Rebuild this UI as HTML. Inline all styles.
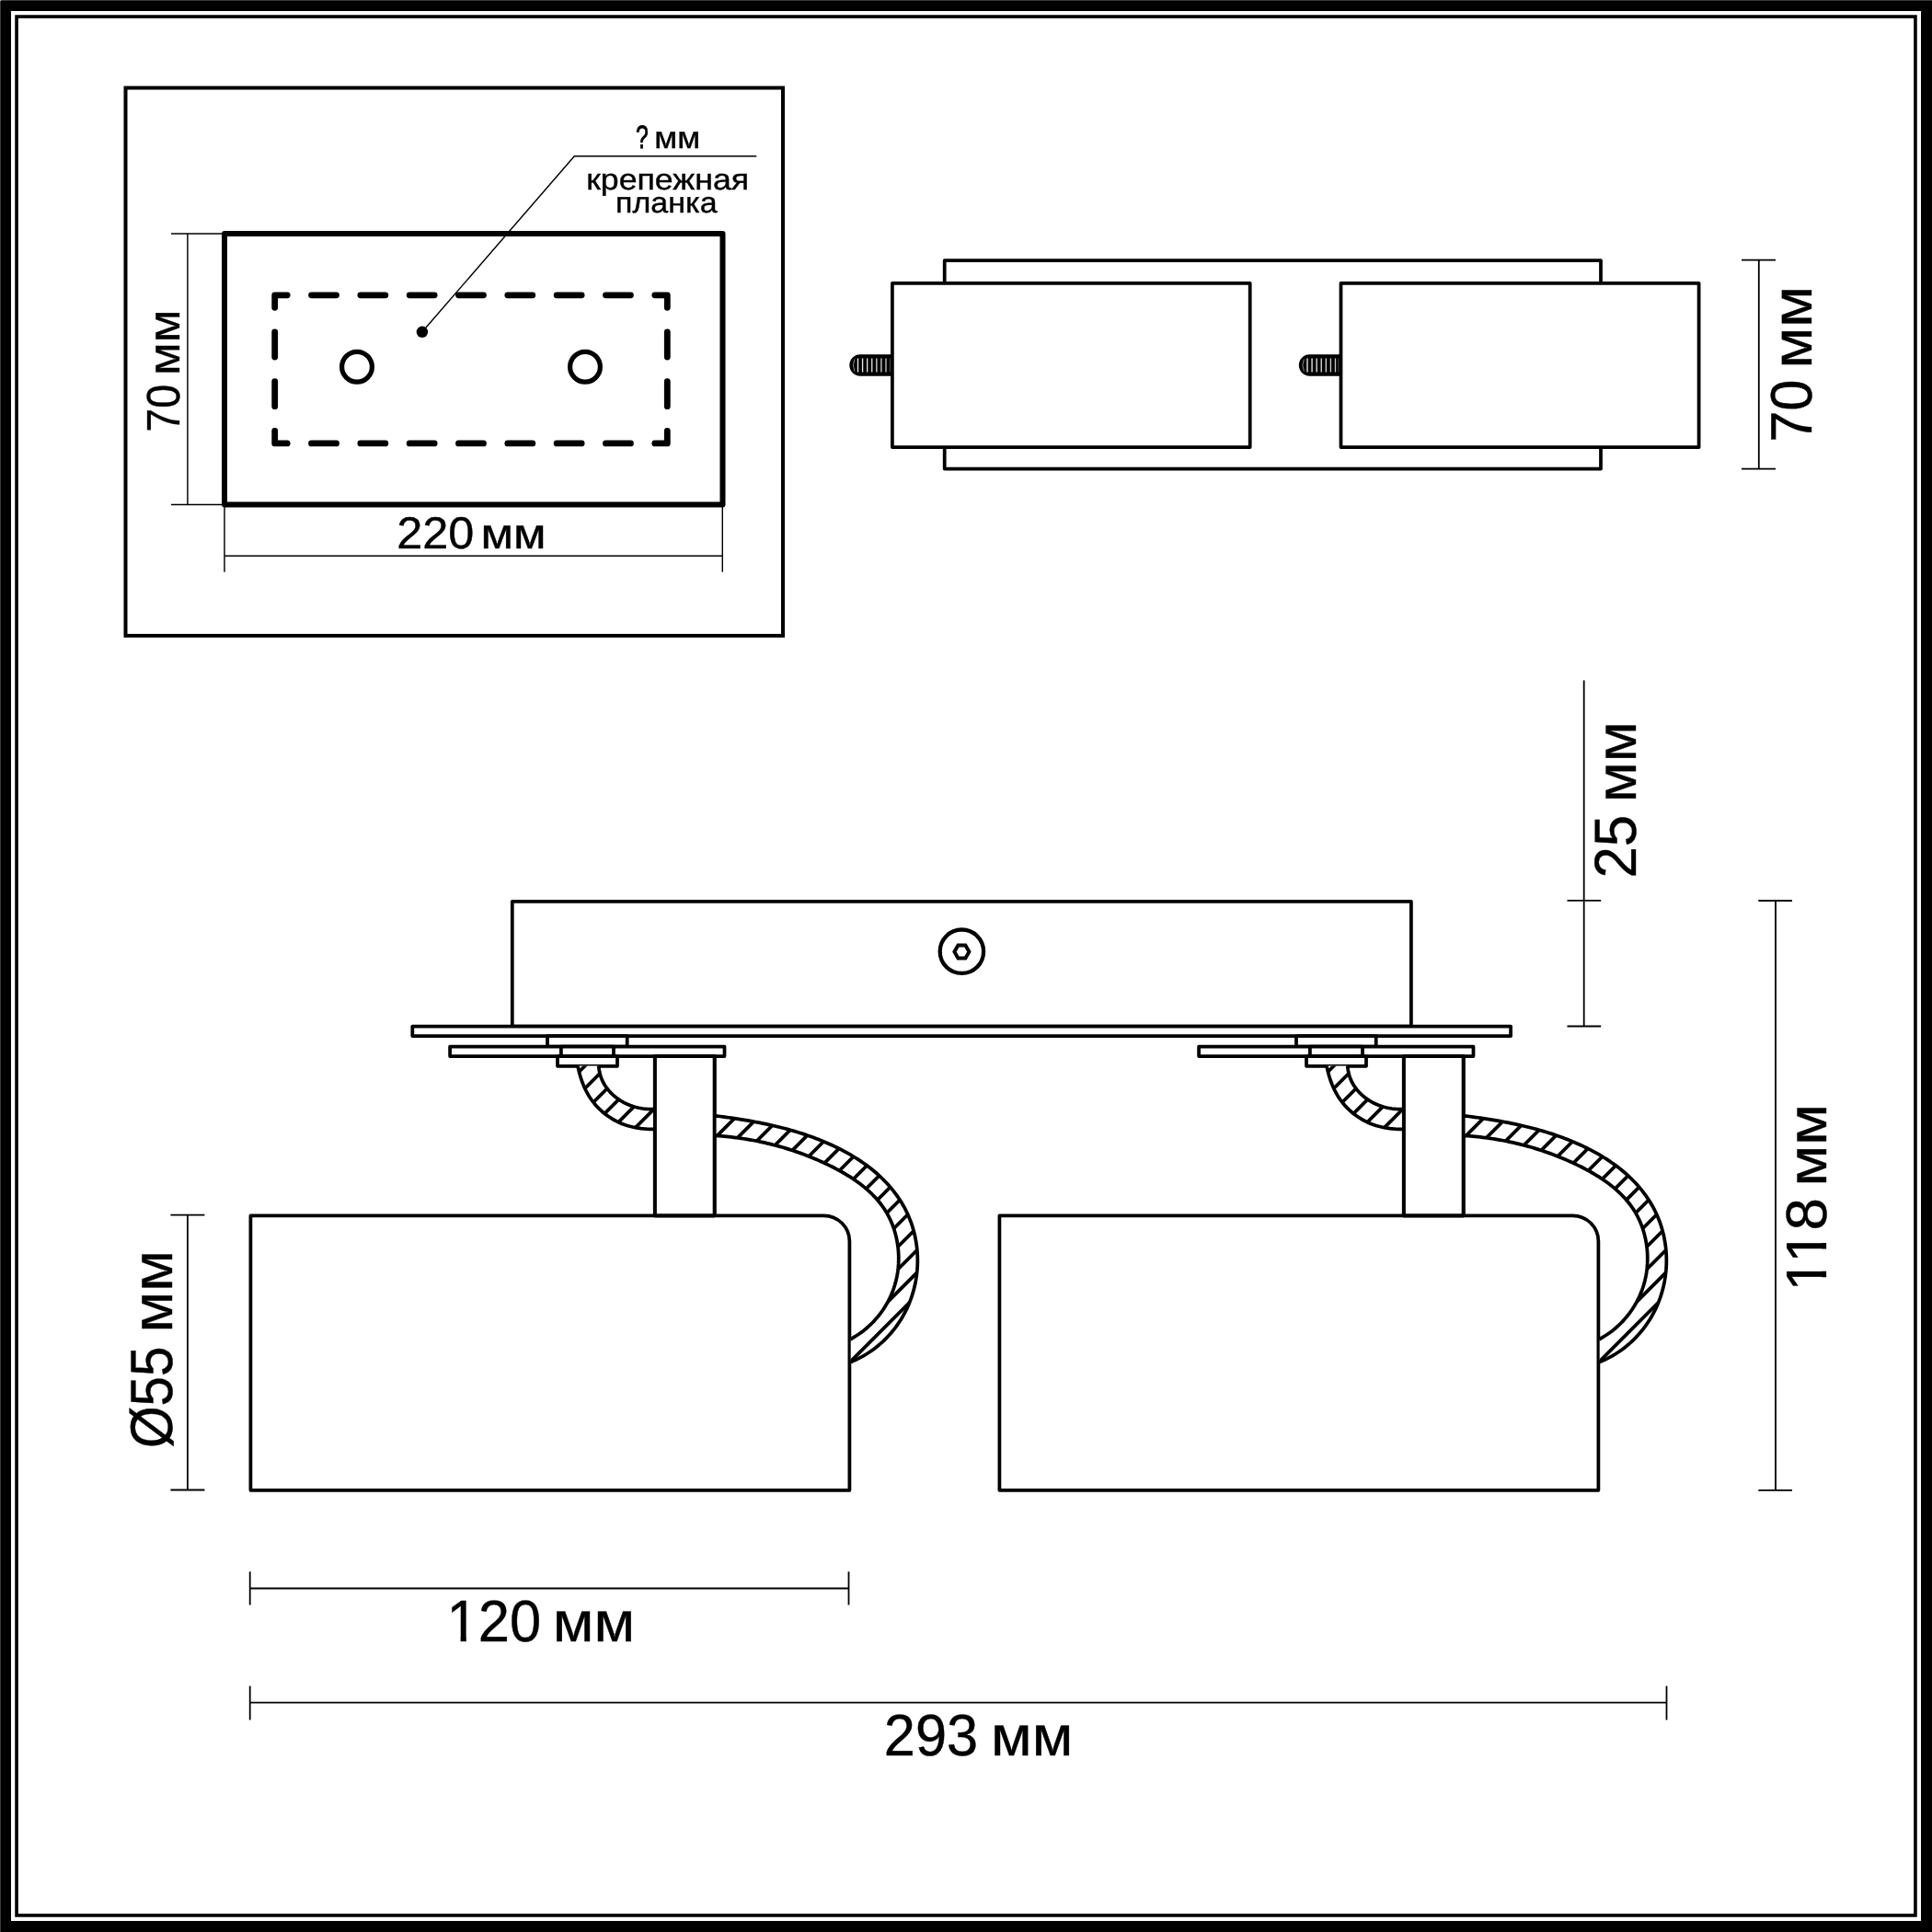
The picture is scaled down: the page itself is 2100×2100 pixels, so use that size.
<!DOCTYPE html>
<html lang="ru"><head><meta charset="utf-8"><title>Схема</title>
<style>
html,body{margin:0;padding:0;background:#fff;width:2100px;height:2100px;overflow:hidden;}
svg{display:block;}
svg{will-change:transform;}
text{font-family:"Liberation Sans",sans-serif;fill:#000;text-rendering:geometricPrecision;}
</style></head><body>
<svg width="2100" height="2100" viewBox="0 0 2100 2100">
<rect x="0" y="0" width="2100" height="2100" fill="#fff"/>
<rect x="6" y="6" width="2088" height="2088" fill="none" stroke="#000" stroke-width="12"/>
<rect x="18.05" y="18.05" width="2063.9" height="2063.9" fill="none" stroke="#000" stroke-width="3.6"/>
<rect x="0" y="0" width="2100" height="1" fill="#3a3a3a"/><rect x="0" y="0" width="1" height="2100" fill="#3a3a3a"/><rect x="0" y="0" width="1" height="1" fill="#c8c8c8"/>
<rect x="136.5" y="95.5" width="714.5" height="595.5" fill="none" stroke="#000" stroke-width="4" />
<rect x="244" y="254" width="541.5" height="294.6" fill="none" stroke="#000" stroke-width="6" stroke-linejoin="round"/>
<path d="M298.7 320.8L312.2 320.8 M338.52 320.8L365.52 320.8 M391.85 320.8L418.85 320.8 M445.17 320.8L472.17 320.8 M498.5 320.8L525.5 320.8 M551.82 320.8L578.83 320.8 M605.15 320.8L632.15 320.8 M658.47 320.8L685.47 320.8 M711.8 320.8L725.3 320.8 M298.7 481.9L312.2 481.9 M338.52 481.9L365.52 481.9 M391.85 481.9L418.85 481.9 M445.17 481.9L472.17 481.9 M498.5 481.9L525.5 481.9 M551.82 481.9L578.83 481.9 M605.15 481.9L632.15 481.9 M658.47 481.9L685.47 481.9 M711.8 481.9L725.3 481.9 M298.7 320.8L298.7 334.3 M298.7 361L298.7 388 M298.7 414.7L298.7 441.7 M298.7 468.4L298.7 481.9 M725.3 320.8L725.3 334.3 M725.3 361L725.3 388 M725.3 414.7L725.3 441.7 M725.3 468.4L725.3 481.9" fill="none" stroke="#000" stroke-width="6.8" stroke-linecap="round"/>
<circle cx="388" cy="398.7" r="16.4" fill="none" stroke="#000" stroke-width="5.2"/>
<circle cx="636" cy="398.7" r="16.4" fill="none" stroke="#000" stroke-width="5.2"/>
<circle cx="458.9" cy="360.8" r="6.2" fill="#000"/>
<polyline points="458.9,360.8 624.3,169.7 822.3,169.7" fill="none" stroke="#000" stroke-width="1.45"/>
<line x1="203.9" y1="253.9" x2="203.9" y2="548.4" stroke="#000" stroke-width="1.45" />
<line x1="186" y1="253.9" x2="241.5" y2="253.9" stroke="#000" stroke-width="1.45" />
<line x1="186" y1="548.4" x2="241.5" y2="548.4" stroke="#000" stroke-width="1.45" />
<line x1="244" y1="551" x2="244" y2="621.7" stroke="#000" stroke-width="1.45" />
<line x1="785.3" y1="551" x2="785.3" y2="621.7" stroke="#000" stroke-width="1.45" />
<line x1="244" y1="604.3" x2="785.3" y2="604.3" stroke="#000" stroke-width="1.45" />
<text transform="translate(431.18,595.51) scale(0.2517,0.2430)" font-size="200" stroke="#000" stroke-width="1.65">220</text>
<text transform="translate(522.48,595.51) scale(0.2585,0.2320)" font-size="200" stroke="#000" stroke-width="1.72">мм</text>
<text transform="translate(194.79,469.73) rotate(-90) scale(0.2333,0.2535)" font-size="200" stroke="#000" stroke-width="1.58">70</text>
<text transform="translate(194.79,407.92) rotate(-90) scale(0.2589,0.2421)" font-size="200" stroke="#000" stroke-width="1.65">мм</text>
<text transform="translate(691.06,161) scale(0.1240,0.1771)" font-size="200" stroke="#000" stroke-width="5">?</text>
<text transform="translate(711.36,161) scale(0.1815,0.1692)" font-size="200" stroke="#000" stroke-width="2.36">мм</text>
<text transform="translate(637.18,205.72) scale(0.1785,0.1613)" font-size="200" stroke="#000" stroke-width="2.48">крепежная</text>
<text transform="translate(669.02,230.98) scale(0.1701,0.1591)" font-size="200" stroke="#000" stroke-width="2.51">планка</text>
<rect x="1026.7" y="283.2" width="713.3" height="226.4" fill="#fff" stroke="#000" stroke-width="3.75"  stroke-linejoin="round"/>
<path d="M970 385.35H934.95A11.65 11.65 0 0 0 934.95 408.65H970Z" fill="#000"/>
<line x1="932.5" y1="389.5" x2="932.5" y2="404.5" stroke="#000" stroke-width="1.35" style="stroke:rgb(240,240,240)"/>
<line x1="937.58" y1="389.5" x2="937.58" y2="404.5" stroke="#000" stroke-width="1.35" style="stroke:rgb(233,233,233)"/>
<line x1="942.66" y1="389.5" x2="942.66" y2="404.5" stroke="#000" stroke-width="1.35" style="stroke:rgb(226,226,226)"/>
<line x1="947.74" y1="389.5" x2="947.74" y2="404.5" stroke="#000" stroke-width="1.35" style="stroke:rgb(219,219,219)"/>
<line x1="952.82" y1="389.5" x2="952.82" y2="404.5" stroke="#000" stroke-width="1.35" style="stroke:rgb(212,212,212)"/>
<line x1="957.9" y1="389.5" x2="957.9" y2="404.5" stroke="#000" stroke-width="1.35" style="stroke:rgb(205,205,205)"/>
<line x1="962.98" y1="389.5" x2="962.98" y2="404.5" stroke="#000" stroke-width="1.35" style="stroke:rgb(198,198,198)"/>
<line x1="967.4" y1="389.4" x2="967.4" y2="404.6" stroke="#000" stroke-width="1.2" style="stroke:#444"/>
<path d="M928.9 390.5Q925.9 397 928.9 403.5" fill="none" stroke="#8a8a8a" stroke-width="1"/>
<path d="M1457.5 385.35H1423.45A11.65 11.65 0 0 0 1423.45 408.65H1457.5Z" fill="#000"/>
<line x1="1421" y1="389.5" x2="1421" y2="404.5" stroke="#000" stroke-width="1.35" style="stroke:rgb(240,240,240)"/>
<line x1="1426.08" y1="389.5" x2="1426.08" y2="404.5" stroke="#000" stroke-width="1.35" style="stroke:rgb(233,233,233)"/>
<line x1="1431.16" y1="389.5" x2="1431.16" y2="404.5" stroke="#000" stroke-width="1.35" style="stroke:rgb(226,226,226)"/>
<line x1="1436.24" y1="389.5" x2="1436.24" y2="404.5" stroke="#000" stroke-width="1.35" style="stroke:rgb(219,219,219)"/>
<line x1="1441.32" y1="389.5" x2="1441.32" y2="404.5" stroke="#000" stroke-width="1.35" style="stroke:rgb(212,212,212)"/>
<line x1="1446.4" y1="389.5" x2="1446.4" y2="404.5" stroke="#000" stroke-width="1.35" style="stroke:rgb(205,205,205)"/>
<line x1="1451.48" y1="389.5" x2="1451.48" y2="404.5" stroke="#000" stroke-width="1.35" style="stroke:rgb(198,198,198)"/>
<line x1="1454.9" y1="389.4" x2="1454.9" y2="404.6" stroke="#000" stroke-width="1.2" style="stroke:#444"/>
<path d="M1417.4 390.5Q1414.4 397 1417.4 403.5" fill="none" stroke="#8a8a8a" stroke-width="1"/>
<rect x="969.9" y="307.8" width="388.8" height="178.2" fill="#fff" stroke="#000" stroke-width="3.75"  stroke-linejoin="round"/>
<rect x="1457.5" y="307.8" width="389.1" height="178.2" fill="#fff" stroke="#000" stroke-width="3.75"  stroke-linejoin="round"/>
<line x1="1911.8" y1="282.6" x2="1911.8" y2="509.6" stroke="#000" stroke-width="1.8" />
<line x1="1893" y1="282.6" x2="1930" y2="282.6" stroke="#000" stroke-width="1.8" />
<line x1="1893" y1="509.6" x2="1930" y2="509.6" stroke="#000" stroke-width="1.8" />
<text transform="translate(1969.26,480.87) rotate(-90) scale(0.3069,0.3176)" font-size="200" stroke="#000" stroke-width="1.26">70</text>
<text transform="translate(1969.26,400.56) rotate(-90) scale(0.3254,0.3033)" font-size="200" stroke="#000" stroke-width="1.32">мм</text>
<rect x="556.8" y="979.8" width="977.1" height="135.7" fill="#fff" stroke="#000" stroke-width="3.75"  stroke-linejoin="round"/>
<rect x="448.3" y="1115.6" width="1193.8" height="10.4" fill="#fff" stroke="#000" stroke-width="3.75"  stroke-linejoin="round"/>
<circle cx="1045.4" cy="1034.2" r="23.7" fill="none" stroke="#000" stroke-width="4.3"/>
<polygon points="1053.4,1034.5 1049.4,1041.43 1041.4,1041.43 1037.4,1034.5 1041.4,1027.57 1049.4,1027.57" fill="none" stroke="#000" stroke-width="3.9"/>
<defs>
<clipPath id="k1"><path d="M628 1158.6L628.64 1161.57L629.34 1164.55L630.11 1167.52L630.97 1170.46L631.91 1173.39L632.93 1176.28L634.05 1179.14L635.25 1181.96L636.56 1184.74L637.95 1187.46L639.45 1190.12L641.05 1192.72L642.76 1195.25L644.57 1197.71L646.49 1200.08L648.52 1202.37L650.64 1204.58L652.86 1206.71L655.16 1208.74L657.53 1210.69L659.98 1212.54L662.5 1214.29L665.09 1215.95L667.73 1217.49L670.43 1218.92L673.19 1220.23L676 1221.42L678.85 1222.5L681.75 1223.45L684.68 1224.3L687.65 1225.03L690.64 1225.66L693.66 1226.18L696.7 1226.6L699.75 1226.92L702.81 1227.15L705.88 1227.28L708.94 1227.33L712 1227.3L712 1205.3L709.83 1205.43L707.64 1205.51L705.45 1205.51L703.25 1205.43L701.05 1205.26L698.86 1205.01L696.68 1204.68L694.5 1204.28L692.35 1203.79L690.21 1203.23L688.09 1202.59L685.99 1201.88L683.93 1201.09L681.89 1200.23L679.89 1199.3L677.93 1198.3L676.01 1197.23L674.13 1196.09L672.3 1194.89L670.52 1193.61L668.8 1192.28L667.13 1190.88L665.52 1189.42L663.98 1187.9L662.51 1186.31L661.1 1184.67L659.77 1182.97L658.52 1181.21L657.35 1179.4L656.26 1177.54L655.26 1175.61L654.35 1173.64L653.53 1171.62L652.81 1169.54L652.19 1167.42L651.68 1165.25L651.27 1163.03L650.97 1160.76L650.7 1158.6Z"/></clipPath>
<clipPath id="k2"><path d="M776.3 1213.1L779.69 1213.11L782.74 1213.5L785.81 1213.9L788.88 1214.31L791.95 1214.74L795.03 1215.18L798.11 1215.63L801.19 1216.1L804.28 1216.58L807.37 1217.07L810.46 1217.59L813.55 1218.12L816.65 1218.66L819.74 1219.23L822.83 1219.81L825.92 1220.41L829.02 1221.04L832.1 1221.68L835.19 1222.34L838.27 1223.03L841.36 1223.73L844.43 1224.46L847.5 1225.22L850.57 1225.99L853.63 1226.8L856.69 1227.62L859.73 1228.47L862.78 1229.35L865.81 1230.26L868.83 1231.19L871.85 1232.15L874.86 1233.14L877.86 1234.16L880.85 1235.21L883.82 1236.29L886.79 1237.4L889.74 1238.55L892.68 1239.72L895.61 1240.93L898.53 1242.17L901.43 1243.45L904.32 1244.76L907.19 1246.11L910.04 1247.49L912.89 1248.91L915.71 1250.36L918.51 1251.86L921.3 1253.39L924.06 1254.96L926.8 1256.57L929.51 1258.23L932.2 1259.92L934.85 1261.66L937.48 1263.43L940.07 1265.26L942.63 1267.12L945.15 1269.03L947.63 1270.99L950.08 1272.99L952.48 1275.04L954.84 1277.13L957.15 1279.28L959.42 1281.47L961.64 1283.71L963.81 1285.99L965.92 1288.33L967.99 1290.7L969.99 1293.12L971.94 1295.58L973.83 1298.09L975.65 1300.64L977.41 1303.23L979.11 1305.86L980.74 1308.52L982.3 1311.23L983.78 1313.98L985.2 1316.76L986.53 1319.57L987.8 1322.43L988.98 1325.32L990.09 1328.23L991.11 1331.18L992.06 1334.16L992.94 1337.16L993.73 1340.19L994.44 1343.23L995.08 1346.3L995.64 1349.38L996.12 1352.48L996.52 1355.59L996.85 1358.71L997.09 1361.84L997.26 1364.98L997.35 1368.12L997.36 1371.27L997.29 1374.41L997.14 1377.55L996.91 1380.69L996.6 1383.83L996.22 1386.95L995.75 1390.07L995.21 1393.17L994.58 1396.26L993.88 1399.33L993.1 1402.38L992.24 1405.42L991.3 1408.43L990.27 1411.41L989.17 1414.37L987.99 1417.3L986.73 1420.2L985.4 1423.07L983.98 1425.9L982.49 1428.7L980.93 1431.45L979.29 1434.16L977.58 1436.84L975.81 1439.46L973.96 1442.04L972.04 1444.57L970.06 1447.04L968.01 1449.47L965.9 1451.83L963.73 1454.14L961.49 1456.39L959.19 1458.58L956.84 1460.71L954.42 1462.76L951.95 1464.76L949.42 1466.68L946.84 1468.52L944.21 1470.3L941.52 1472L938.78 1473.62L935.99 1475.15L933.16 1476.61L930.28 1477.98L927.35 1479.27L924.7 1480.6L924.7 1455.8L926.8 1454.28L929.12 1452.93L931.4 1451.51L933.64 1450.04L935.84 1448.49L937.99 1446.89L940.09 1445.23L942.15 1443.52L944.16 1441.74L946.13 1439.92L948.04 1438.04L949.9 1436.1L951.7 1434.12L953.46 1432.09L955.16 1430.02L956.8 1427.9L958.38 1425.73L959.91 1423.53L961.38 1421.28L962.79 1419L964.13 1416.68L965.42 1414.32L966.64 1411.93L967.79 1409.51L968.88 1407.06L969.9 1404.58L970.86 1402.07L971.74 1399.53L972.56 1396.97L973.3 1394.39L973.97 1391.79L974.57 1389.17L975.09 1386.53L975.55 1383.87L975.93 1381.21L976.24 1378.54L976.48 1375.85L976.65 1373.17L976.75 1370.47L976.78 1367.78L976.75 1365.09L976.64 1362.4L976.46 1359.72L976.21 1357.05L975.9 1354.38L975.51 1351.73L975.06 1349.09L974.54 1346.47L973.95 1343.87L973.3 1341.28L972.57 1338.72L971.79 1336.19L970.93 1333.68L970.01 1331.21L969.02 1328.76L967.97 1326.35L966.85 1323.98L965.66 1321.64L964.41 1319.35L963.1 1317.1L961.72 1314.89L960.28 1312.72L958.78 1310.6L957.22 1308.52L955.6 1306.48L953.93 1304.48L952.21 1302.53L950.43 1300.61L948.61 1298.73L946.74 1296.89L944.82 1295.08L942.86 1293.32L940.86 1291.59L938.81 1289.89L936.73 1288.23L934.61 1286.6L932.46 1285.01L930.27 1283.45L928.05 1281.92L925.81 1280.43L923.53 1278.96L921.23 1277.53L918.91 1276.13L916.56 1274.75L914.2 1273.4L911.81 1272.08L909.41 1270.79L907 1269.53L904.57 1268.29L902.13 1267.07L899.68 1265.88L897.22 1264.72L894.76 1263.57L892.29 1262.45L889.82 1261.36L887.34 1260.28L884.86 1259.23L882.37 1258.2L879.88 1257.19L877.38 1256.21L874.88 1255.25L872.38 1254.3L869.87 1253.39L867.35 1252.49L864.83 1251.62L862.31 1250.76L859.78 1249.93L857.25 1249.12L854.71 1248.34L852.16 1247.57L849.62 1246.82L847.06 1246.1L844.51 1245.4L841.94 1244.72L839.38 1244.06L836.81 1243.42L834.23 1242.8L831.65 1242.2L829.07 1241.62L826.48 1241.07L823.88 1240.53L821.28 1240.01L818.68 1239.52L816.07 1239.04L813.46 1238.59L810.84 1238.15L808.22 1237.73L805.59 1237.34L802.96 1236.96L800.32 1236.61L797.68 1236.27L795.04 1235.95L792.38 1235.65L789.73 1235.38L787.07 1235.12L784.41 1234.88L781.74 1234.65L779.06 1234.45L776.3 1234.7Z"/></clipPath>
<g id="grp">
<rect x="595" y="1126" width="86.7" height="11.6" fill="#fff" stroke="#000" stroke-width="3.75"  stroke-linejoin="round"/>
<rect x="489.1" y="1137.6" width="298.4" height="10.5" fill="#fff" stroke="#000" stroke-width="3.75"  stroke-linejoin="round"/>
<rect x="609.9" y="1137.6" width="57.1" height="10.5" fill="#fff" stroke="#000" stroke-width="3.75"  stroke-linejoin="round"/>
<rect x="606" y="1148.1" width="65" height="10.7" fill="#fff" stroke="#000" stroke-width="3.75"  stroke-linejoin="round"/>
<path d="M272.4 1321.3H895.4A28 28 0 0 1 923.4 1349.3V1619.8H272.4Z" fill="#fff" stroke="#000" stroke-width="3.75" stroke-linejoin="round"/>
<rect x="711.8" y="1148.1" width="64.9" height="173.2" fill="#fff" stroke="#000" stroke-width="3.75"  stroke-linejoin="round"/>
<path d="M628 1158.6L628.64 1161.57L629.34 1164.55L630.11 1167.52L630.97 1170.46L631.91 1173.39L632.93 1176.28L634.05 1179.14L635.25 1181.96L636.56 1184.74L637.95 1187.46L639.45 1190.12L641.05 1192.72L642.76 1195.25L644.57 1197.71L646.49 1200.08L648.52 1202.37L650.64 1204.58L652.86 1206.71L655.16 1208.74L657.53 1210.69L659.98 1212.54L662.5 1214.29L665.09 1215.95L667.73 1217.49L670.43 1218.92L673.19 1220.23L676 1221.42L678.85 1222.5L681.75 1223.45L684.68 1224.3L687.65 1225.03L690.64 1225.66L693.66 1226.18L696.7 1226.6L699.75 1226.92L702.81 1227.15L705.88 1227.28L708.94 1227.33L712 1227.3L712 1205.3L709.83 1205.43L707.64 1205.51L705.45 1205.51L703.25 1205.43L701.05 1205.26L698.86 1205.01L696.68 1204.68L694.5 1204.28L692.35 1203.79L690.21 1203.23L688.09 1202.59L685.99 1201.88L683.93 1201.09L681.89 1200.23L679.89 1199.3L677.93 1198.3L676.01 1197.23L674.13 1196.09L672.3 1194.89L670.52 1193.61L668.8 1192.28L667.13 1190.88L665.52 1189.42L663.98 1187.9L662.51 1186.31L661.1 1184.67L659.77 1182.97L658.52 1181.21L657.35 1179.4L656.26 1177.54L655.26 1175.61L654.35 1173.64L653.53 1171.62L652.81 1169.54L652.19 1167.42L651.68 1165.25L651.27 1163.03L650.97 1160.76L650.7 1158.6Z" fill="#fff" stroke="none"/>
<path d="M510 1260L630 1140M534.4 1260L654.4 1140M558.8 1260L678.8 1140M583.2 1260L703.2 1140M607.6 1260L727.6 1140M632 1260L752 1140M656.4 1260L776.4 1140M680.8 1260L800.8 1140" clip-path="url(#k1)" fill="none" stroke="#000" stroke-width="3.75"/>
<path d="M628 1158.6L628.64 1161.57L629.34 1164.55L630.11 1167.52L630.97 1170.46L631.91 1173.39L632.93 1176.28L634.05 1179.14L635.25 1181.96L636.56 1184.74L637.95 1187.46L639.45 1190.12L641.05 1192.72L642.76 1195.25L644.57 1197.71L646.49 1200.08L648.52 1202.37L650.64 1204.58L652.86 1206.71L655.16 1208.74L657.53 1210.69L659.98 1212.54L662.5 1214.29L665.09 1215.95L667.73 1217.49L670.43 1218.92L673.19 1220.23L676 1221.42L678.85 1222.5L681.75 1223.45L684.68 1224.3L687.65 1225.03L690.64 1225.66L693.66 1226.18L696.7 1226.6L699.75 1226.92L702.81 1227.15L705.88 1227.28L708.94 1227.33L712 1227.3" fill="none" stroke="#000" stroke-width="3.75"/>
<path d="M650.7 1158.6L650.97 1160.76L651.27 1163.03L651.68 1165.25L652.19 1167.42L652.81 1169.54L653.53 1171.62L654.35 1173.64L655.26 1175.61L656.26 1177.54L657.35 1179.4L658.52 1181.21L659.77 1182.97L661.1 1184.67L662.51 1186.31L663.98 1187.9L665.52 1189.42L667.13 1190.88L668.8 1192.28L670.52 1193.61L672.3 1194.89L674.13 1196.09L676.01 1197.23L677.93 1198.3L679.89 1199.3L681.89 1200.23L683.93 1201.09L685.99 1201.88L688.09 1202.59L690.21 1203.23L692.35 1203.79L694.5 1204.28L696.68 1204.68L698.86 1205.01L701.05 1205.26L703.25 1205.43L705.45 1205.51L707.64 1205.51L709.83 1205.43L712 1205.3" fill="none" stroke="#000" stroke-width="3.75"/>
<path d="M776.3 1213.1L779.69 1213.11L782.74 1213.5L785.81 1213.9L788.88 1214.31L791.95 1214.74L795.03 1215.18L798.11 1215.63L801.19 1216.1L804.28 1216.58L807.37 1217.07L810.46 1217.59L813.55 1218.12L816.65 1218.66L819.74 1219.23L822.83 1219.81L825.92 1220.41L829.02 1221.04L832.1 1221.68L835.19 1222.34L838.27 1223.03L841.36 1223.73L844.43 1224.46L847.5 1225.22L850.57 1225.99L853.63 1226.8L856.69 1227.62L859.73 1228.47L862.78 1229.35L865.81 1230.26L868.83 1231.19L871.85 1232.15L874.86 1233.14L877.86 1234.16L880.85 1235.21L883.82 1236.29L886.79 1237.4L889.74 1238.55L892.68 1239.72L895.61 1240.93L898.53 1242.17L901.43 1243.45L904.32 1244.76L907.19 1246.11L910.04 1247.49L912.89 1248.91L915.71 1250.36L918.51 1251.86L921.3 1253.39L924.06 1254.96L926.8 1256.57L929.51 1258.23L932.2 1259.92L934.85 1261.66L937.48 1263.43L940.07 1265.26L942.63 1267.12L945.15 1269.03L947.63 1270.99L950.08 1272.99L952.48 1275.04L954.84 1277.13L957.15 1279.28L959.42 1281.47L961.64 1283.71L963.81 1285.99L965.92 1288.33L967.99 1290.7L969.99 1293.12L971.94 1295.58L973.83 1298.09L975.65 1300.64L977.41 1303.23L979.11 1305.86L980.74 1308.52L982.3 1311.23L983.78 1313.98L985.2 1316.76L986.53 1319.57L987.8 1322.43L988.98 1325.32L990.09 1328.23L991.11 1331.18L992.06 1334.16L992.94 1337.16L993.73 1340.19L994.44 1343.23L995.08 1346.3L995.64 1349.38L996.12 1352.48L996.52 1355.59L996.85 1358.71L997.09 1361.84L997.26 1364.98L997.35 1368.12L997.36 1371.27L997.29 1374.41L997.14 1377.55L996.91 1380.69L996.6 1383.83L996.22 1386.95L995.75 1390.07L995.21 1393.17L994.58 1396.26L993.88 1399.33L993.1 1402.38L992.24 1405.42L991.3 1408.43L990.27 1411.41L989.17 1414.37L987.99 1417.3L986.73 1420.2L985.4 1423.07L983.98 1425.9L982.49 1428.7L980.93 1431.45L979.29 1434.16L977.58 1436.84L975.81 1439.46L973.96 1442.04L972.04 1444.57L970.06 1447.04L968.01 1449.47L965.9 1451.83L963.73 1454.14L961.49 1456.39L959.19 1458.58L956.84 1460.71L954.42 1462.76L951.95 1464.76L949.42 1466.68L946.84 1468.52L944.21 1470.3L941.52 1472L938.78 1473.62L935.99 1475.15L933.16 1476.61L930.28 1477.98L927.35 1479.27L924.7 1480.6L924.7 1455.8L926.8 1454.28L929.12 1452.93L931.4 1451.51L933.64 1450.04L935.84 1448.49L937.99 1446.89L940.09 1445.23L942.15 1443.52L944.16 1441.74L946.13 1439.92L948.04 1438.04L949.9 1436.1L951.7 1434.12L953.46 1432.09L955.16 1430.02L956.8 1427.9L958.38 1425.73L959.91 1423.53L961.38 1421.28L962.79 1419L964.13 1416.68L965.42 1414.32L966.64 1411.93L967.79 1409.51L968.88 1407.06L969.9 1404.58L970.86 1402.07L971.74 1399.53L972.56 1396.97L973.3 1394.39L973.97 1391.79L974.57 1389.17L975.09 1386.53L975.55 1383.87L975.93 1381.21L976.24 1378.54L976.48 1375.85L976.65 1373.17L976.75 1370.47L976.78 1367.78L976.75 1365.09L976.64 1362.4L976.46 1359.72L976.21 1357.05L975.9 1354.38L975.51 1351.73L975.06 1349.09L974.54 1346.47L973.95 1343.87L973.3 1341.28L972.57 1338.72L971.79 1336.19L970.93 1333.68L970.01 1331.21L969.02 1328.76L967.97 1326.35L966.85 1323.98L965.66 1321.64L964.41 1319.35L963.1 1317.1L961.72 1314.89L960.28 1312.72L958.78 1310.6L957.22 1308.52L955.6 1306.48L953.93 1304.48L952.21 1302.53L950.43 1300.61L948.61 1298.73L946.74 1296.89L944.82 1295.08L942.86 1293.32L940.86 1291.59L938.81 1289.89L936.73 1288.23L934.61 1286.6L932.46 1285.01L930.27 1283.45L928.05 1281.92L925.81 1280.43L923.53 1278.96L921.23 1277.53L918.91 1276.13L916.56 1274.75L914.2 1273.4L911.81 1272.08L909.41 1270.79L907 1269.53L904.57 1268.29L902.13 1267.07L899.68 1265.88L897.22 1264.72L894.76 1263.57L892.29 1262.45L889.82 1261.36L887.34 1260.28L884.86 1259.23L882.37 1258.2L879.88 1257.19L877.38 1256.21L874.88 1255.25L872.38 1254.3L869.87 1253.39L867.35 1252.49L864.83 1251.62L862.31 1250.76L859.78 1249.93L857.25 1249.12L854.71 1248.34L852.16 1247.57L849.62 1246.82L847.06 1246.1L844.51 1245.4L841.94 1244.72L839.38 1244.06L836.81 1243.42L834.23 1242.8L831.65 1242.2L829.07 1241.62L826.48 1241.07L823.88 1240.53L821.28 1240.01L818.68 1239.52L816.07 1239.04L813.46 1238.59L810.84 1238.15L808.22 1237.73L805.59 1237.34L802.96 1236.96L800.32 1236.61L797.68 1236.27L795.04 1235.95L792.38 1235.65L789.73 1235.38L787.07 1235.12L784.41 1234.88L781.74 1234.65L779.06 1234.45L776.3 1234.7Z" fill="#fff" stroke="none"/>
<path d="M465.2 1500L775.2 1190M489.6 1500L799.6 1190M514 1500L824 1190M538.4 1500L848.4 1190M562.8 1500L872.8 1190M587.2 1500L897.2 1190M611.6 1500L921.6 1190M636 1500L946 1190M660.4 1500L970.4 1190M684.8 1500L994.8 1190M709.2 1500L1019.2 1190M733.6 1500L1043.6 1190M758 1500L1068 1190M782.4 1500L1092.4 1190M806.8 1500L1116.8 1190M831.2 1500L1141.2 1190M855.6 1500L1165.6 1190M880 1500L1190 1190M904.4 1500L1214.4 1190M928.8 1500L1238.8 1190M953.2 1500L1263.2 1190M977.6 1500L1287.6 1190" clip-path="url(#k2)" fill="none" stroke="#000" stroke-width="3.75"/>
<path d="M776.3 1213.1L779.69 1213.11L782.74 1213.5L785.81 1213.9L788.88 1214.31L791.95 1214.74L795.03 1215.18L798.11 1215.63L801.19 1216.1L804.28 1216.58L807.37 1217.07L810.46 1217.59L813.55 1218.12L816.65 1218.66L819.74 1219.23L822.83 1219.81L825.92 1220.41L829.02 1221.04L832.1 1221.68L835.19 1222.34L838.27 1223.03L841.36 1223.73L844.43 1224.46L847.5 1225.22L850.57 1225.99L853.63 1226.8L856.69 1227.62L859.73 1228.47L862.78 1229.35L865.81 1230.26L868.83 1231.19L871.85 1232.15L874.86 1233.14L877.86 1234.16L880.85 1235.21L883.82 1236.29L886.79 1237.4L889.74 1238.55L892.68 1239.72L895.61 1240.93L898.53 1242.17L901.43 1243.45L904.32 1244.76L907.19 1246.11L910.04 1247.49L912.89 1248.91L915.71 1250.36L918.51 1251.86L921.3 1253.39L924.06 1254.96L926.8 1256.57L929.51 1258.23L932.2 1259.92L934.85 1261.66L937.48 1263.43L940.07 1265.26L942.63 1267.12L945.15 1269.03L947.63 1270.99L950.08 1272.99L952.48 1275.04L954.84 1277.13L957.15 1279.28L959.42 1281.47L961.64 1283.71L963.81 1285.99L965.92 1288.33L967.99 1290.7L969.99 1293.12L971.94 1295.58L973.83 1298.09L975.65 1300.64L977.41 1303.23L979.11 1305.86L980.74 1308.52L982.3 1311.23L983.78 1313.98L985.2 1316.76L986.53 1319.57L987.8 1322.43L988.98 1325.32L990.09 1328.23L991.11 1331.18L992.06 1334.16L992.94 1337.16L993.73 1340.19L994.44 1343.23L995.08 1346.3L995.64 1349.38L996.12 1352.48L996.52 1355.59L996.85 1358.71L997.09 1361.84L997.26 1364.98L997.35 1368.12L997.36 1371.27L997.29 1374.41L997.14 1377.55L996.91 1380.69L996.6 1383.83L996.22 1386.95L995.75 1390.07L995.21 1393.17L994.58 1396.26L993.88 1399.33L993.1 1402.38L992.24 1405.42L991.3 1408.43L990.27 1411.41L989.17 1414.37L987.99 1417.3L986.73 1420.2L985.4 1423.07L983.98 1425.9L982.49 1428.7L980.93 1431.45L979.29 1434.16L977.58 1436.84L975.81 1439.46L973.96 1442.04L972.04 1444.57L970.06 1447.04L968.01 1449.47L965.9 1451.83L963.73 1454.14L961.49 1456.39L959.19 1458.58L956.84 1460.71L954.42 1462.76L951.95 1464.76L949.42 1466.68L946.84 1468.52L944.21 1470.3L941.52 1472L938.78 1473.62L935.99 1475.15L933.16 1476.61L930.28 1477.98L927.35 1479.27L924.7 1480.6" fill="none" stroke="#000" stroke-width="3.75"/>
<path d="M776.3 1234.7L779.06 1234.45L781.74 1234.65L784.41 1234.88L787.07 1235.12L789.73 1235.38L792.38 1235.65L795.04 1235.95L797.68 1236.27L800.32 1236.61L802.96 1236.96L805.59 1237.34L808.22 1237.73L810.84 1238.15L813.46 1238.59L816.07 1239.04L818.68 1239.52L821.28 1240.01L823.88 1240.53L826.48 1241.07L829.07 1241.62L831.65 1242.2L834.23 1242.8L836.81 1243.42L839.38 1244.06L841.94 1244.72L844.51 1245.4L847.06 1246.1L849.62 1246.82L852.16 1247.57L854.71 1248.34L857.25 1249.12L859.78 1249.93L862.31 1250.76L864.83 1251.62L867.35 1252.49L869.87 1253.39L872.38 1254.3L874.88 1255.25L877.38 1256.21L879.88 1257.19L882.37 1258.2L884.86 1259.23L887.34 1260.28L889.82 1261.36L892.29 1262.45L894.76 1263.57L897.22 1264.72L899.68 1265.88L902.13 1267.07L904.57 1268.29L907 1269.53L909.41 1270.79L911.81 1272.08L914.2 1273.4L916.56 1274.75L918.91 1276.13L921.23 1277.53L923.53 1278.96L925.81 1280.43L928.05 1281.92L930.27 1283.45L932.46 1285.01L934.61 1286.6L936.73 1288.23L938.81 1289.89L940.86 1291.59L942.86 1293.32L944.82 1295.08L946.74 1296.89L948.61 1298.73L950.43 1300.61L952.21 1302.53L953.93 1304.48L955.6 1306.48L957.22 1308.52L958.78 1310.6L960.28 1312.72L961.72 1314.89L963.1 1317.1L964.41 1319.35L965.66 1321.64L966.85 1323.98L967.97 1326.35L969.02 1328.76L970.01 1331.21L970.93 1333.68L971.79 1336.19L972.57 1338.72L973.3 1341.28L973.95 1343.87L974.54 1346.47L975.06 1349.09L975.51 1351.73L975.9 1354.38L976.21 1357.05L976.46 1359.72L976.64 1362.4L976.75 1365.09L976.78 1367.78L976.75 1370.47L976.65 1373.17L976.48 1375.85L976.24 1378.54L975.93 1381.21L975.55 1383.87L975.09 1386.53L974.57 1389.17L973.97 1391.79L973.3 1394.39L972.56 1396.97L971.74 1399.53L970.86 1402.07L969.9 1404.58L968.88 1407.06L967.79 1409.51L966.64 1411.93L965.42 1414.32L964.13 1416.68L962.79 1419L961.38 1421.28L959.91 1423.53L958.38 1425.73L956.8 1427.9L955.16 1430.02L953.46 1432.09L951.7 1434.12L949.9 1436.1L948.04 1438.04L946.13 1439.92L944.16 1441.74L942.15 1443.52L940.09 1445.23L937.99 1446.89L935.84 1448.49L933.64 1450.04L931.4 1451.51L929.12 1452.93L926.8 1454.28L924.7 1455.8" fill="none" stroke="#000" stroke-width="3.75"/>
<rect x="711.8" y="1148.1" width="64.9" height="173.2" fill="none" stroke="#000" stroke-width="3.75"  stroke-linejoin="round"/>
</g>
</defs>
<use href="#grp"/>
<use href="#grp" x="814"/>
<line x1="1721.7" y1="739.6" x2="1721.7" y2="1115.5" stroke="#000" stroke-width="1.8" />
<line x1="1703.5" y1="978.8" x2="1740.2" y2="978.8" stroke="#000" stroke-width="1.8" />
<line x1="1703.5" y1="1115.5" x2="1740.2" y2="1115.5" stroke="#000" stroke-width="1.8" />
<text transform="translate(1778.26,954.59) rotate(-90) scale(0.3088,0.3211)" font-size="200" stroke="#000" stroke-width="1.25">25</text>
<text transform="translate(1778.26,872.28) rotate(-90) scale(0.3198,0.3067)" font-size="200" stroke="#000" stroke-width="1.30">мм</text>
<line x1="1930" y1="979" x2="1930" y2="1619.8" stroke="#000" stroke-width="1.8" />
<line x1="1911.3" y1="979" x2="1948" y2="979" stroke="#000" stroke-width="1.8" />
<line x1="1911.3" y1="1619.8" x2="1948" y2="1619.8" stroke="#000" stroke-width="1.8" />
<clipPath id="t1"><rect x="-20" y="-230" width="358.86" height="214.4"/><rect x="49" y="-17" width="20" height="20"/><rect x="145.39" y="-17" width="20" height="20"/><rect x="210.62" y="-17" width="107.23" height="40"/></clipPath>
<text transform="translate(1984.78,1403.76) rotate(-90) scale(0.3188,0.3120)" font-size="200" clip-path="url(#t1)" stroke="#000" stroke-width="1.28">118</text>
<text transform="translate(1984.78,1289.45) rotate(-90) scale(0.3250,0.2979)" font-size="200" stroke="#000" stroke-width="1.34">мм</text>
<line x1="203.9" y1="1320.6" x2="203.9" y2="1619.5" stroke="#000" stroke-width="1.8" />
<line x1="185.4" y1="1320.6" x2="222.4" y2="1320.6" stroke="#000" stroke-width="1.8" />
<line x1="185.4" y1="1619.5" x2="222.4" y2="1619.5" stroke="#000" stroke-width="1.8" />
<text transform="translate(186.55,1574.04) rotate(-90) scale(0.2925,0.3229)" font-size="200" stroke="#000" stroke-width="1.24">Ø55</text>
<text transform="translate(186.55,1448.57) rotate(-90) scale(0.3266,0.3083)" font-size="200" stroke="#000" stroke-width="1.30">мм</text>
<line x1="271.7" y1="1726.5" x2="922.5" y2="1726.5" stroke="#000" stroke-width="1.8" />
<line x1="271.7" y1="1708.3" x2="271.7" y2="1744.5" stroke="#000" stroke-width="1.8" />
<line x1="922.5" y1="1708.3" x2="922.5" y2="1744.5" stroke="#000" stroke-width="1.8" />
<clipPath id="t2"><rect x="-20" y="-230" width="373.7" height="214.4"/><rect x="49" y="-17" width="20" height="20"/><rect x="114.23" y="-17" width="107.23" height="40"/><rect x="225.47" y="-17" width="107.23" height="40"/></clipPath>
<text transform="translate(485.56,1783.86) scale(0.3075,0.3197)" font-size="200" clip-path="url(#t2)" stroke="#000" stroke-width="1.25">120</text>
<text transform="translate(600.84,1783.86) scale(0.3254,0.3053)" font-size="200" stroke="#000" stroke-width="1.31">мм</text>
<line x1="271.7" y1="1850.7" x2="1811.5" y2="1850.7" stroke="#000" stroke-width="1.8" />
<line x1="271.7" y1="1832.6" x2="271.7" y2="1869.5" stroke="#000" stroke-width="1.8" />
<line x1="1811.5" y1="1832.6" x2="1811.5" y2="1869.5" stroke="#000" stroke-width="1.8" />
<text transform="translate(960.83,1908.16) scale(0.3067,0.3190)" font-size="200" stroke="#000" stroke-width="1.25">293</text>
<text transform="translate(1077.06,1908.16) scale(0.3246,0.3047)" font-size="200" stroke="#000" stroke-width="1.31">мм</text>
</svg>
</body></html>
